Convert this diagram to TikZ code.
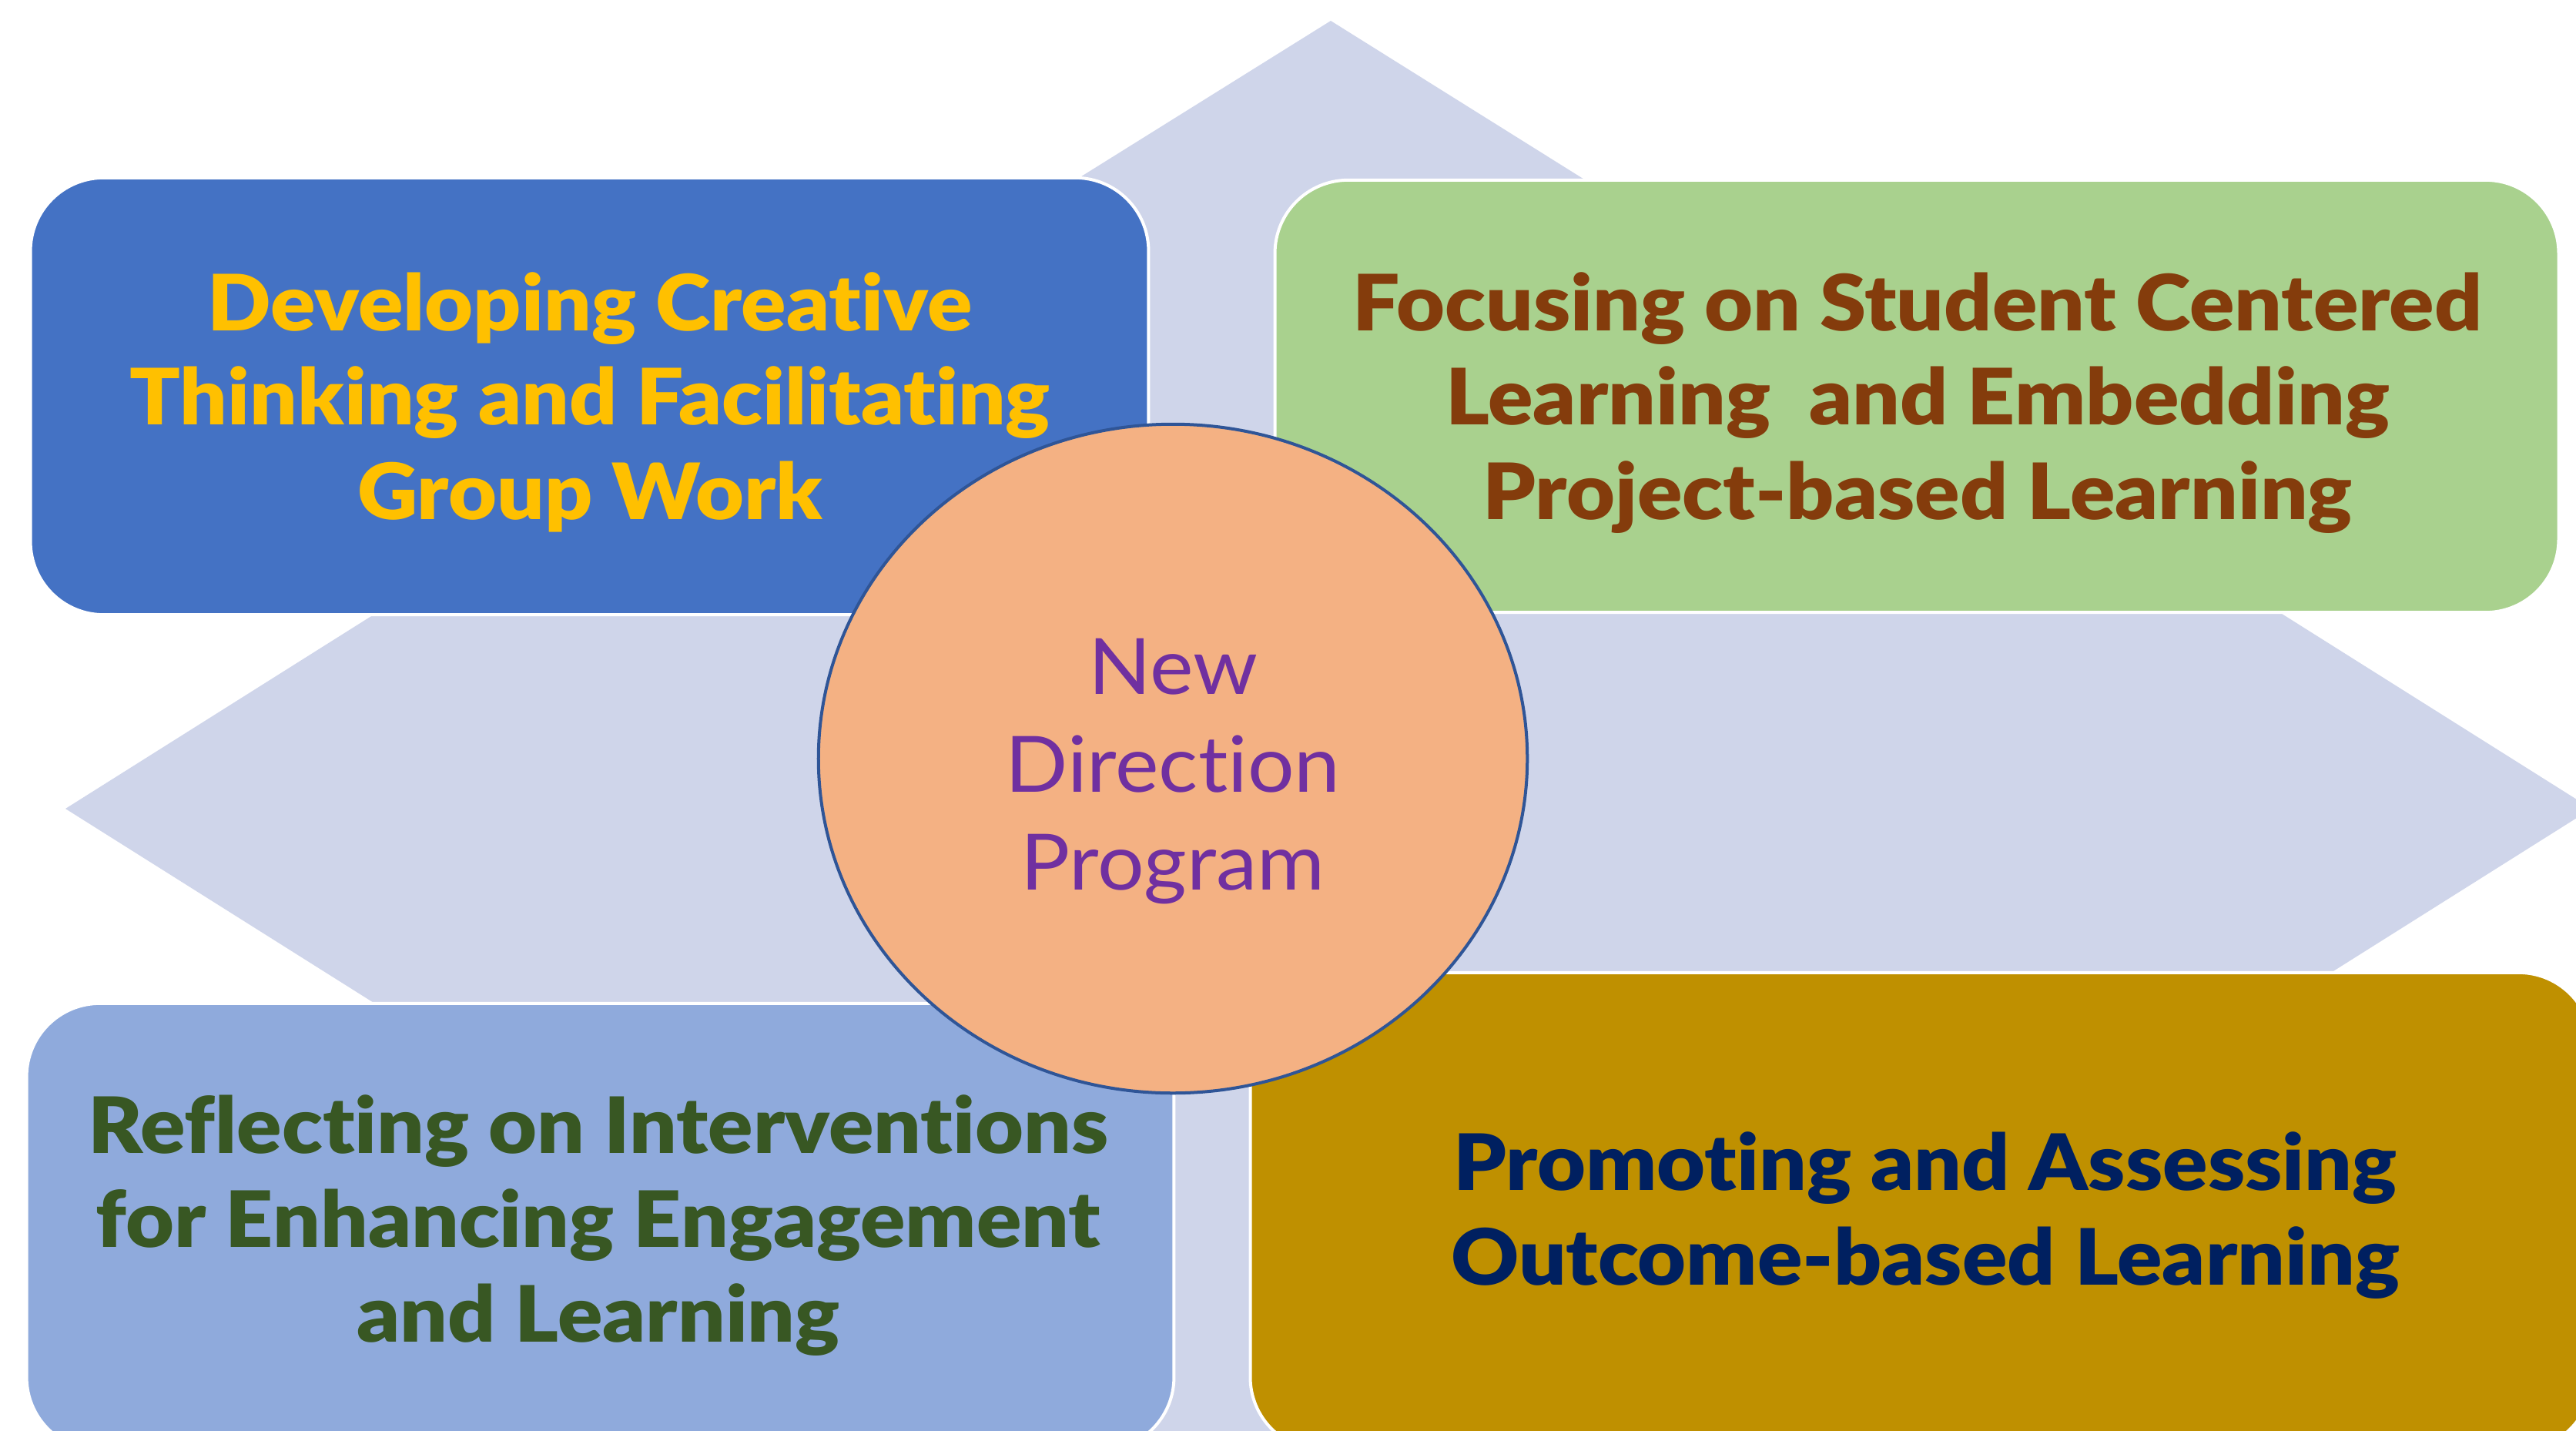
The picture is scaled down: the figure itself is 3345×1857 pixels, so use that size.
\documentclass[tikz,border=0pt]{standalone}
\usepackage{fontspec}
\setmainfont{Lato}[Ligatures=NoCommon]
\newfontfamily\tilefont{Lato Black}[Ligatures=NoCommon, FakeStretch=1.075]
\newfontfamily\corefont{Lato}[Ligatures=NoCommon, FakeStretch=1.06]
\usetikzlibrary{shapes.geometric}
\definecolor{lav}{HTML}{CFD5EA}
\definecolor{bluebox}{HTML}{4472C4}
\definecolor{yellowtxt}{HTML}{FFC000}
\definecolor{greenbox}{HTML}{A9D18E}
\definecolor{browntxt}{HTML}{843C0C}
\definecolor{lightbluebox}{HTML}{8FAADC}
\definecolor{dkgreentxt}{HTML}{385723}
\definecolor{goldbox}{HTML}{BF9000}
\definecolor{navytxt}{HTML}{002060}
\definecolor{corefill}{HTML}{F4B183}
\definecolor{coreline}{HTML}{2F5597}
\definecolor{purpletxt}{HTML}{7030A0}
\begin{document}
\begin{tikzpicture}[x=0.01cm,y=-0.01cm,
  tile/.style={rectangle, rounded corners=0.95cm, draw=white, line width=0.04cm, inner sep=0pt},
  tiletext/.style={anchor=base, align=center, inner sep=0pt, font=\fontsize{28.7}{34.7}\selectfont\tilefont},
  coretext/.style={anchor=base, align=center, inner sep=0pt, text=purpletxt, font=\fontsize{28.7}{36.1}\selectfont\corefont}]
\useasboundingbox (0,0) rectangle (3345,1857);
\clip (0,0) rectangle (3345,1857);
% background cross
\fill[lav] (1728,27) -- (2150,291) -- (2150,1900) -- (1300,1900) -- (1300,294) -- cycle;
\fill[lav] (85,1050) -- (641,700) -- (2809,700) -- (3365,1050) -- (2809,1400) -- (641,1400) -- cycle;
% tiles
\node[tile, fill=bluebox, minimum width=14.51cm, minimum height=5.67cm] (tl) at (765.5,514.5) {};
\node[tile, fill=greenbox, minimum width=16.66cm, minimum height=5.61cm] (tr) at (2489,514.5) {};
\node[tile, fill=lightbluebox, minimum width=14.89cm, minimum height=5.80cm] (bl) at (779.5,1593) {};
\node[tile, fill=goldbox, minimum width=17.41cm, minimum height=6.20cm] (br) at (2494.5,1573) {};
\node[tiletext, text=yellowtxt] (tltext) at (766,674) {Developing Creative\\Thinking and Facilitating\\Group Work};
\node[tiletext, text=browntxt] (trtext) at (2490,674) {Focusing on Student Centered\\Learning \ and Embedding\\Project-based Learning};
\node[tiletext, text=dkgreentxt] (bltext) at (777,1742) {Reflecting on Interventions\\for Enhancing Engagement\\and Learning};
\node[tiletext, text=navytxt] (brtext) at (2500,1668) {Promoting and Assessing\\Outcome-based Learning};
% centre
\node[ellipse, fill=corefill, draw=coreline, line width=0.04cm, minimum width=9.2cm, minimum height=8.68cm, inner sep=0pt] (core) at (1523,985) {};
\node[coretext] (coretxt) at (1523,1155) {New\\Direction\\Program};
\end{tikzpicture}
\end{document}
